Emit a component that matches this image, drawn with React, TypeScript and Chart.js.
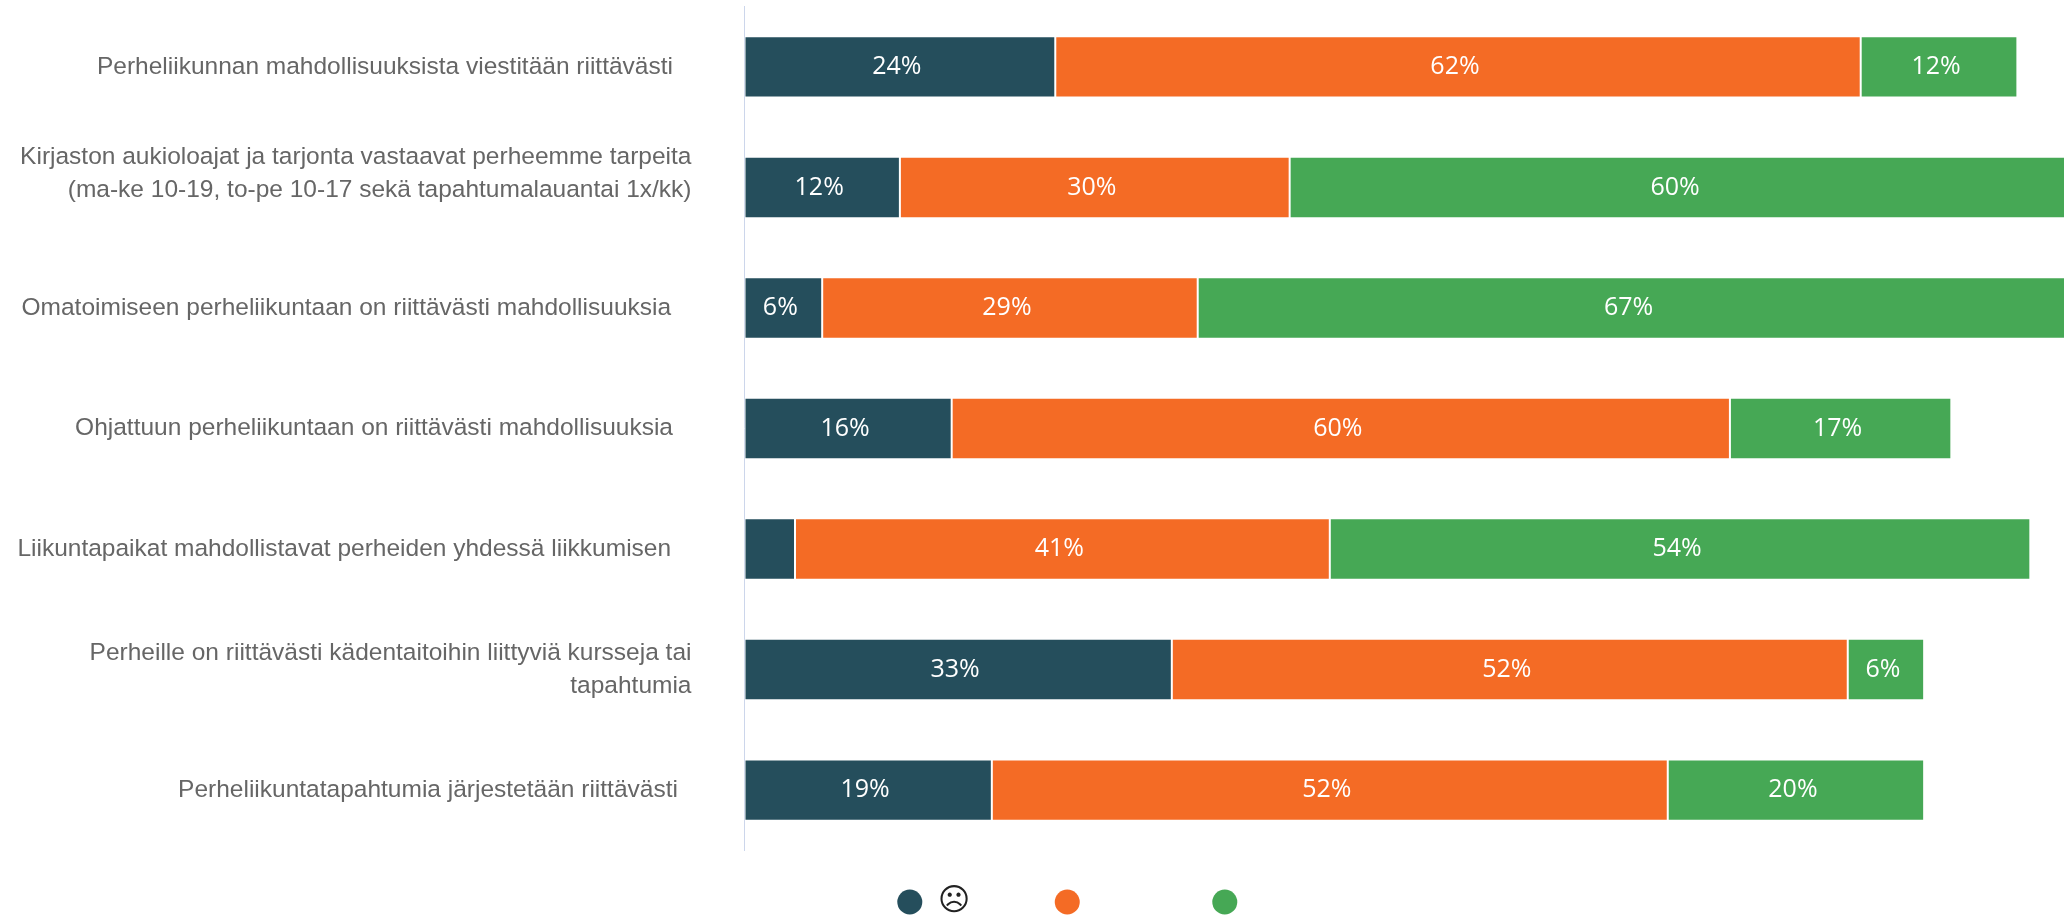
import React, { useEffect, useRef } from "react";
import { Chart, registerables } from "chart.js";

Chart.register(...registerables);

const categories: (string | string[])[] = [
  "Perheliikunnan mahdollisuuksista viestitään riittävästi  \u2009",
  ["Kirjaston aukioloajat ja tarjonta vastaavat perheemme tarpeita", "(ma-ke 10-19, to-pe 10-17 sekä tapahtumalauantai 1x/kk)", " "],
  "Omatoimiseen perheliikuntaan on riittävästi mahdollisuuksia   ",
  "Ohjattuun perheliikuntaan on riittävästi mahdollisuuksia  \u2009",
  "Liikuntapaikat mahdollistavat perheiden yhdessä liikkumisen   ",
  ["Perheille on riittävästi kädentaitoihin liittyviä kursseja tai", "tapahtumia"],
  "Perheliikuntatapahtumia järjestetään riittävästi  ",
];
const sadValues = [24, 12, 6, 16, 3.9, 33, 19.1];
const neutralValues = [62.2, 30.1, 29, 60.1, 41.3, 52.2, 52.2];
const happyValues = [12.1, 60, 67, 17.1, 54.1, 5.9, 19.8];
const seriesNames = ["☹", "", ""];
const seriesColors = ["#254e5c", "#f46b25", "#46a855"];

const barValueLabels = {
  id: "barValueLabels",
  afterDatasetsDraw(chart: any) {
    const { ctx } = chart;
    ctx.save();
    ctx.font = "25px 'Open Sans'";
    ctx.fillStyle = "#ffffff";
    ctx.textAlign = "center";
    ctx.textBaseline = "middle";
    chart.data.datasets.forEach((ds: any, i: number) => {
      chart.getDatasetMeta(i).data.forEach((bar: any, j: number) => {
        const v = ds.data[j];
        if (v < 5) return;
        ctx.fillText(`${Math.round(v)}%`, (bar.base + bar.x) / 2 - 3, bar.y);
      });
    });
    ctx.restore();
  },
};

const layoutTweaks = {
  id: "layoutTweaks",
  afterLayout(chart: any) {
    chart.legend.left += 97;
    chart.legend.right += 97;
    chart.legend.top += 27;
    chart.legend.bottom += 27;
    chart.scales.y.getLabelItems()[1].textOffset += 3;
  },
};

export default function App() {
  const ref = useRef<HTMLCanvasElement>(null);
  useEffect(() => {
    document.body.style.margin = "0";
    const chart = new Chart(ref.current as HTMLCanvasElement, {
      type: "bar",
      data: {
        labels: categories as any,
        datasets: [sadValues, neutralValues, happyValues].map((data, i) => ({
          label: seriesNames[i],
          data,
          backgroundColor: seriesColors[i],
          borderColor: "#ffffff",
          borderWidth: 1,
          borderSkipped: false,
          categoryPercentage: 0.51,
          barPercentage: 1,
        })),
      },
      plugins: [barValueLabels, layoutTweaks],
      options: {
        indexAxis: "y",
        animation: false,
        responsive: false,
        layout: { padding: { top: 6.6, bottom: 17.5, left: 0, right: 0 } },
        scales: {
          x: { stacked: true, display: false, min: 0, max: 101.9 },
          y: {
            stacked: true,
            afterFit(scale: any) {
              scale.width = 744.5;
              scale.paddingTop = 0;
              scale.paddingBottom = 0;
            },
            grid: { drawOnChartArea: false, drawTicks: false },
            border: { display: true, color: "#ccd6eb", width: 1 },
            ticks: {
              padding: 53,
              autoSkip: false,
              color: "#666666",
              font: { family: "'Liberation Sans'", size: 24.5, lineHeight: 33 / 24.5 },
            },
          },
        },
        plugins: {
          tooltip: { enabled: false },
          legend: {
            display: true,
            position: "bottom",
            labels: {
              usePointStyle: true,
              pointStyle: "circle",
              pointStyleWidth: 25,
              boxHeight: 17.7,
              padding: 9.1,
              color: "#222222",
              font: { family: "'DejaVu Sans'", size: 31, weight: "bold" },
              generateLabels(c: any) {
                return c.data.datasets.map((ds: any, i: number) => ({
                  text: ds.label ? ds.label + " ".repeat(7) : " ".repeat(10),
                  fillStyle: ds.backgroundColor,
                  strokeStyle: ds.backgroundColor,
                  fontColor: "#222222",
                  lineWidth: 0,
                  hidden: false,
                  pointStyle: "circle",
                  datasetIndex: i,
                }));
              },
            },
          },
        },
      },
    } as any);
    return () => chart.destroy();
  }, []);
  return <canvas ref={ref} width={2064} height={918} style={{ display: "block" }} />;
}
